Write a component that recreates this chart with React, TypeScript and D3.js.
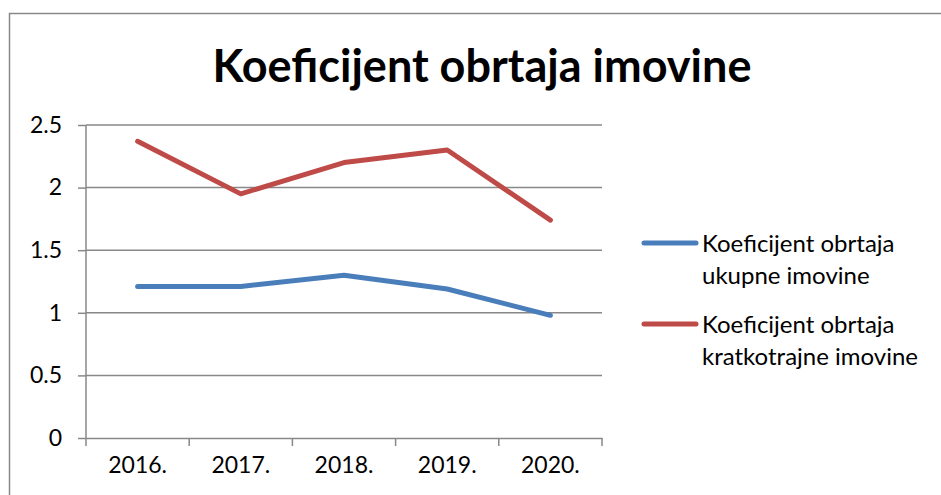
import * as d3 from 'd3';
import { useEffect, useRef } from 'react';

const years = ['2016.', '2017.', '2018.', '2019.', '2020.'];
const ukupne = [1.21, 1.21, 1.3, 1.19, 0.98];
const kratkotrajne = [2.37, 1.95, 2.2, 2.3, 1.74];
const yTicks = [0, 0.5, 1, 1.5, 2, 2.5];
const seriesNames = [
  ['Koeficijent obrtaja', 'ukupne imovine'],
  ['Koeficijent obrtaja', 'kratkotrajne imovine'],
];
const colors = ['#4a7ebb', '#be4b48'];

const App = () => {
  const ref = useRef<SVGSVGElement>(null);

  useEffect(() => {
    const width = 941;
    const height = 495;
    const margin = { top: 125, right: 339, bottom: 57, left: 86 };
    const font = 'Lato, Calibri, sans-serif';

    const svg = d3.select(ref.current);
    svg.selectAll('*').remove();

    svg.append('rect')
      .attr('x', 9.5).attr('y', 13.5)
      .attr('width', 960).attr('height', 520)
      .attr('fill', 'white').attr('stroke', '#888').attr('stroke-width', 1.5);

    svg.append('text')
      .attr('x', 482).attr('y', 82)
      .attr('text-anchor', 'middle')
      .attr('font-family', font).attr('font-weight', 'bold').attr('font-size', 45)
      .text('Koeficijent obrtaja imovine');

    const x = d3.scaleBand()
      .domain(years)
      .range([margin.left, width - margin.right]);

    const y = d3.scaleLinear()
      .domain([0, 2.5])
      .range([height - margin.bottom, margin.top]);

    // grid
    svg.append('g')
      .selectAll('line')
      .data(yTicks.filter(d => d > 0))
      .enter().append('line')
      .attr('x1', margin.left).attr('x2', width - margin.right)
      .attr('y1', d => y(d)).attr('y2', d => y(d))
      .attr('stroke', '#888').attr('stroke-width', 1.5);

    // y axis
    const yAxis = svg.append('g')
      .attr('transform', `translate(${margin.left},0)`)
      .call(d3.axisLeft(y).tickValues(yTicks).tickSize(8).tickPadding(16).tickFormat(d3.format('')));
    yAxis.selectAll('line, path').attr('stroke', '#888').attr('stroke-width', 1.5);
    yAxis.select('.domain').attr('d', `M0,${y(2.5)}V${y(0)}`);
    yAxis.selectAll('text')
      .attr('font-family', font).attr('font-size', 23).attr('fill', '#000');

    // x axis
    const xAxis = svg.append('g')
      .attr('transform', `translate(0,${y(0)})`)
      .call(d3.axisBottom(x).tickSize(0).tickPadding(19));
    xAxis.select('.domain').attr('stroke', '#888').attr('stroke-width', 1.5);
    xAxis.selectAll('text')
      .attr('font-family', font).attr('font-size', 23).attr('fill', '#000');

    const edges = years.map(d => x(d) as number).concat([width - margin.right]);
    xAxis.append('g')
      .selectAll('line')
      .data(edges)
      .enter().append('line')
      .attr('x1', d => d).attr('x2', d => d)
      .attr('y1', 0).attr('y2', 8)
      .attr('stroke', '#888').attr('stroke-width', 1.5);

    const line = d3.line<number>()
      .x((d, i) => (x(years[i]) as number) + x.bandwidth() / 2)
      .y(d => y(d));

    [ukupne, kratkotrajne].forEach((s, i) => {
      svg.append('path')
        .datum(s)
        .attr('d', line)
        .attr('fill', 'none')
        .attr('stroke', colors[i])
        .attr('stroke-width', 5)
        .attr('stroke-linecap', 'round')
        .attr('stroke-linejoin', 'round');
    });

    // legend
    const legend = svg.append('g');
    seriesNames.forEach((lines, i) => {
      const ly = 243 + i * 81;
      legend.append('line')
        .attr('x1', 644).attr('x2', 696)
        .attr('y1', ly).attr('y2', ly)
        .attr('stroke', colors[i]).attr('stroke-width', 5)
        .attr('stroke-linecap', 'round');
      lines.forEach((t, j) => {
        legend.append('text')
          .attr('x', 702).attr('y', ly + 9 + j * 32)
          .attr('font-family', font).attr('font-size', 24)
          .text(t);
      });
    });
  }, []);

  return (
    <svg ref={ref} width={941} height={495}
      style={{ position: 'absolute', left: 0, top: 0, background: 'white' }} />
  );
};

export default App;
